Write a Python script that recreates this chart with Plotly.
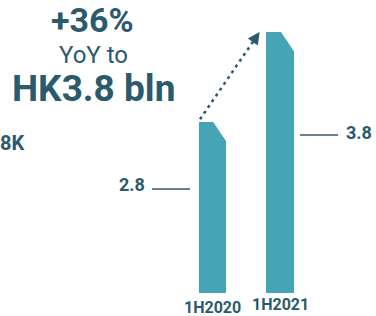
import plotly.graph_objects as go

categories = ["1H2020", "1H2021"]
values = [2.8, 3.8]
value_labels = ["2.8", "3.8"]
headline = ["+36%", "YoY to", "HK3.8 bln"]
side_note = "8K"

W, H = 376, 316
PLOT_H = 293
DARK = "#2c5a6c"
BAR = "#46a5b4"
FONT = "Roboto"

def px(x):
    return x / W

def py(y):
    return (PLOT_H - y) / PLOT_H

fig = go.Figure()
fig.add_trace(go.Bar(
    x=list(range(len(categories))), y=values, width=0.4,
    marker=dict(color=BAR, line=dict(width=0)),
    hoverinfo="skip", showlegend=False,
))

shapes = []
# chamfered top-right corners
for i, v in enumerate(values):
    shapes.append(dict(
        type="path", xref="x", yref="y",
        path=f"M {i+0.005} {v+0.01} L {i+0.215} {v+0.01} L {i+0.215} {v-0.225} Z",
        fillcolor="white", line=dict(width=0), layer="above",
    ))

# dotted growth arrow
x0, y0 = -0.18, values[0] + 0.03
x1, y1 = 0.70, values[1]
fig.add_trace(go.Scatter(
    x=[x0, x0 + (x1 - x0) * 0.93], y=[y0, y0 + (y1 - y0) * 0.93],
    mode="lines", line=dict(color=DARK, width=2.5, dash="3px,4px"),
    hoverinfo="skip", showlegend=False,
))

annotations = [
    dict(x=x1, y=y1, ax=x0 + (x1 - x0) * 0.9, ay=y0 + (y1 - y0) * 0.9,
         xref="x", yref="y", axref="x", ayref="y", text="", showarrow=True,
         arrowhead=2, arrowsize=1.1, arrowwidth=2.2, arrowcolor=DARK),
]

# value label leader lines
shapes.append(dict(type="line", xref="paper", yref="paper",
                   x0=px(152), x1=px(190), y0=py(189), y1=py(189),
                   line=dict(color=DARK, width=1.5)))
shapes.append(dict(type="line", xref="paper", yref="paper",
                   x0=px(300), x1=px(338), y0=py(135), y1=py(135),
                   line=dict(color=DARK, width=1.5)))

annotations += [
    dict(x=px(147), y=py(184), xref="paper", yref="paper", text=value_labels[0],
         xanchor="right", yanchor="middle", showarrow=False,
         font=dict(family=FONT, size=18, color=DARK, weight=700)),
    dict(x=px(344), y=py(132), xref="paper", yref="paper", text=value_labels[1],
         xanchor="left", yanchor="middle", showarrow=False,
         font=dict(family=FONT, size=18, color=DARK, weight=700)),
    dict(x=px(92), y=py(20), xref="paper", yref="paper", text=headline[0],
         xanchor="center", yanchor="middle", showarrow=False,
         font=dict(family=FONT, size=34, color=DARK, weight=700)),
    dict(x=px(93), y=py(55), xref="paper", yref="paper", text=headline[1],
         xanchor="center", yanchor="middle", showarrow=False,
         font=dict(family=FONT, size=24, color=DARK)),
    dict(x=px(93), y=py(88), xref="paper", yref="paper", text=headline[2],
         xanchor="center", yanchor="middle", showarrow=False,
         font=dict(family=FONT, size=37, color=DARK, weight=700)),
    dict(x=px(26), y=py(143), xref="paper", yref="paper", text=side_note,
         xanchor="right", yanchor="middle", showarrow=False,
         font=dict(family=FONT, size=20, color=DARK, weight=700)),
]
label_y = [307.5, 304.5]
for i, c in enumerate(categories):
    annotations.append(dict(x=i, y=py(label_y[i]), xref="x", yref="paper", text=c,
                            xanchor="center", yanchor="middle", showarrow=False,
                            font=dict(family=FONT, size=16, color=DARK, weight=700)))

fig.update_layout(
    width=W, height=H,
    margin=dict(l=0, r=0, t=0, b=H - PLOT_H, pad=0),
    paper_bgcolor="white", plot_bgcolor="white",
    xaxis=dict(range=[-212.2 / 67.8, 163.8 / 67.8], visible=False, fixedrange=True),
    yaxis=dict(range=[0.9, 374 / 90], visible=False, fixedrange=True),
    shapes=shapes, annotations=annotations, bargap=0,
)
fig.write_html(
    "out.html",
    config=dict(displayModeBar=False),
    post_script="document.body.style.margin='0';document.body.style.overflow='hidden';",
)
